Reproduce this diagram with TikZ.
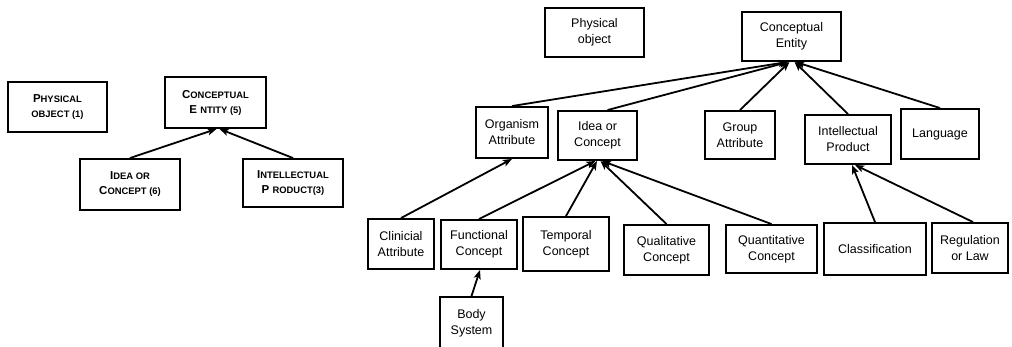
\documentclass[tikz,border=0pt]{standalone}
\usepackage{fontspec}
\setmainfont{Liberation Sans}
\usetikzlibrary{arrows.meta}

% small-capitals look: a full-size initial followed by reduced capitals
\newcommand\capinit[1]{{\fontsize{11.5}{15}\selectfont #1}}
\newcommand\caprest[1]{{\fontsize{9.4}{15}\selectfont #1}}

\tikzset{
  box/.style={draw, line width=1.9pt, inner sep=0pt, align=center,
    font=\fontsize{12.5}{16}\selectfont},
  scbox/.style={box, font=\bfseries\fontsize{11.5}{15}\selectfont},
  isa/.style={line width=1.8pt, -{Stealth[length=9pt,width=7pt,inset=2pt]}},
}

\begin{document}
\begin{tikzpicture}[x=1pt,y=-1pt]
\clip (0,0) rectangle (1012,347);
\fill[white] (0,0) rectangle (1012,347);

% ---- first hierarchy (small capitals) ----
\node[scbox, minimum width=99pt, minimum height=50pt] (po1) at (57.5,107)
  {\capinit{P}\caprest{HYSICAL}\\\caprest{OBJECT (1)}};
\node[scbox, minimum width=101pt, minimum height=51pt] (ce1) at (215.5,102.5)
  {\capinit{C}\caprest{ONCEPTUAL}\\\capinit{E} \caprest{NTITY (5)}};
\node[scbox, minimum width=100pt, minimum height=51pt] (ic1) at (130,184.5)
  {\capinit{I}\caprest{DEA OR}\\\capinit{C}\caprest{ONCEPT (6)}};
\node[scbox, minimum width=100pt, minimum height=48pt] (ip1) at (293,183)
  {\capinit{I}\caprest{NTELLECTUAL}\\\capinit{P} \caprest{RODUCT(3)}};

\draw[isa] (ic1.north) -- ([xshift=1pt]ce1.south);
\draw[isa] (ip1.north) -- ([xshift=4pt]ce1.south);

% ---- second hierarchy ----
\node[box, minimum width=99pt, minimum height=49pt] (po) at (594.5,32.5) {Physical\\object};
\node[box, minimum width=99pt, minimum height=49pt] (ce) at (791.5,36.5) {Conceptual\\Entity};

\node[box, minimum width=72pt, minimum height=51pt] (oa) at (512,132.5) {Organism\\Attribute};
\node[box, minimum width=79pt, minimum height=49pt] (ioc) at (597.5,135.5) {Idea or\\Concept};
\node[box, minimum width=70pt, minimum height=48pt] (ga) at (740,135) {Group\\Attribute};
\node[box, minimum width=86pt, minimum height=49pt] (ip) at (848,139.5) {Intellectual\\Product};
\node[box, minimum width=78pt, minimum height=50pt] (lang) at (940,134) {Language};

\node[box, minimum width=66pt, minimum height=50pt] (ca) at (401,244) {Clinicial\\Attribute};
\node[box, minimum width=76pt, minimum height=49pt] (fc) at (479,244.5) {Functional\\Concept};
\node[box, minimum width=86pt, minimum height=54pt] (tc) at (566,244) {Temporal\\Concept};
\node[box, minimum width=85pt, minimum height=50pt] (qlc) at (666.5,250) {Qualitative\\Concept};
\node[box, minimum width=91pt, minimum height=48pt] (qnc) at (771.5,249) {Quantitative\\Concept};
\node[box, minimum width=102pt, minimum height=52pt] (cls) at (875,249) {Classification};
\node[box, minimum width=76pt, minimum height=50pt] (rl) at (970,248) {Regulation\\or Law};

\node[box, minimum width=63pt, minimum height=58pt, text depth=0pt] (bs) at (471.5,326)
  {\raisebox{8pt}{\shortstack{Body\\[2pt]System}}};

% is-a links up to Conceptual Entity
\draw[isa] (oa.north) -- ([xshift=-4pt]ce.south);
\draw[isa] ([xshift=10pt]ioc.north) -- ([xshift=-3pt]ce.south);
\draw[isa] (ga.north) -- ([xshift=-2pt]ce.south);
\draw[isa] (ip.north) -- ([xshift=3pt]ce.south);
\draw[isa] (lang.north) -- ([xshift=4pt]ce.south);

% links up to Idea or Concept and its siblings
\draw[isa] (ca.north) -- (oa.south);
\draw[isa] (fc.north) -- ([xshift=-2pt]ioc.south);
\draw[isa] (tc.north) -- ([xshift=-0.5pt]ioc.south);
\draw[isa] (qlc.north) -- ([xshift=3pt]ioc.south);
\draw[isa] (qnc.north) -- ([xshift=4.5pt]ioc.south);
\draw[isa] (bs.north) -- ([xshift=1pt]fc.south);

% links up to Intellectual Product
\draw[isa] (cls.north) -- ([xshift=4pt]ip.south);
\draw[isa] ([xshift=3pt]rl.north) -- ([xshift=7pt]ip.south);
\end{tikzpicture}
\end{document}
